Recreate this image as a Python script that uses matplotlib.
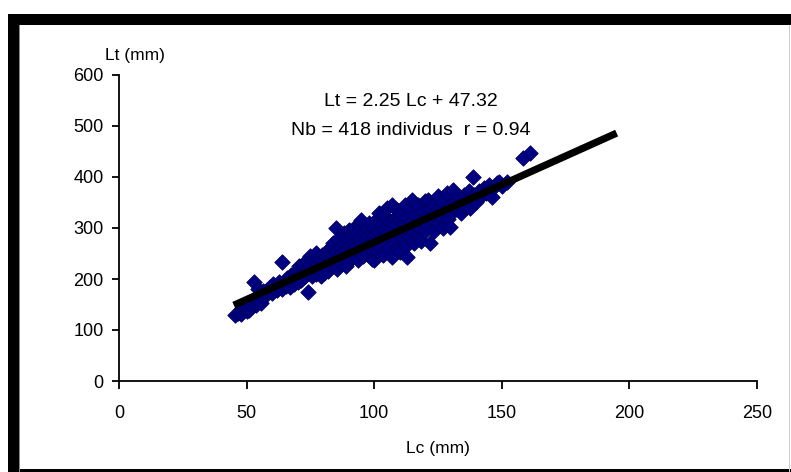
import matplotlib
matplotlib.use("Agg")
import matplotlib.pyplot as plt
from matplotlib.patches import Rectangle

# ---- data ----
lc = [45.5, 46.5, 47.5, 48, 49, 50, 50.5, 51, 52, 52.5, 53, 53.5, 54, 54.5, 55, 55.5, 56, 56.5, 57, 57.5,
      58, 59, 60, 60.5, 61, 62, 62.5, 63, 64, 64, 65, 65.5, 66, 66.5, 67, 67.5, 68, 68.5, 69, 69.5, 70, 70,
      70.5, 71, 71.5, 72, 72.5, 73, 73.5, 74, 74, 74.5, 75, 75, 75.5, 76, 76.5, 77, 77, 77.5, 78, 78.5, 79, 79, 79.5, 80, 80, 80.5,
      81, 81.5, 82, 82, 82.5, 83, 83.5, 84, 84, 84.5, 85, 85, 85.5, 86, 86, 86.5, 87, 87.5, 88, 88, 88.5, 89, 89, 89.5, 90, 90, 90,
      90.5, 91, 91, 91.5, 92, 92, 92.5, 93, 93, 93.5, 94, 94, 94.5, 95, 95, 95.5, 96, 96, 96.5, 97, 97, 97.5, 98, 98, 98.5, 99, 99, 99.5, 100, 100, 100,
      100.5, 101, 101, 101.5, 102, 102, 102.5, 103, 103, 103.5, 104, 104, 104.5, 105, 105, 105.5, 106, 106, 106.5, 107, 107, 107.5, 108, 108, 108.5, 109, 109, 109.5, 110, 110, 110,
      110.5, 111, 111.5, 112, 112, 112.5, 113, 113, 113.5, 114, 114, 114.5, 115, 115, 115.5, 116, 116.5, 117, 117, 117.5, 118, 118.5, 119, 119, 120, 120,
      120.5, 121, 121, 122, 122, 122.5, 123, 123.5, 124, 125, 125, 125.5, 126, 127, 127, 128, 128.5, 129, 129.7, 130, 130,
      131, 131.5, 132, 133, 133.5, 134, 135, 135.5, 136, 137, 137.5, 138, 138.7, 139, 140, 141, 142, 143, 144, 145, 146, 147, 148, 149, 150, 152, 158.3, 161]
lt = [129, 133, 138, 131, 142, 137, 146, 140, 148, 155, 194, 150, 158, 180, 163, 152, 170, 176, 165, 172,
      178, 185, 172, 190, 182, 178, 195, 188, 233, 180, 197, 186, 202, 192, 184, 208, 198, 190, 212, 203, 195, 218,
      225, 208, 198, 230, 214, 205, 236, 174, 220, 212, 245, 228, 205, 218, 238, 210, 250, 226, 215, 240, 222, 205, 248, 232, 218, 212,
      245, 228, 256, 215, 238, 262, 225, 248, 270, 236, 300, 255, 220, 242, 278, 262, 232, 250, 290, 268, 240, 258, 226, 280, 248, 296, 235,
      265, 285, 242, 258, 300, 272, 248, 262, 288, 238, 278, 305, 255, 268, 316, 245, 290, 262, 276, 300, 250, 284, 268, 310, 258, 292, 240, 278, 302, 265, 237,
      286, 318, 255, 295, 275, 330, 262, 308, 285, 248, 298, 325, 270, 288, 340, 260, 312, 280, 300, 345, 243, 292, 320, 270, 305, 285, 335, 258, 298, 253, 315,
      330, 280, 310, 292, 345, 265, 243, 322, 300, 285, 338, 312, 355, 295, 270, 325, 305, 288, 345, 318, 300, 275, 332, 310, 352, 295,
      322, 355, 305, 270, 338, 315, 348, 295, 330, 310, 362, 340, 322, 300, 350, 335, 368, 318, 302, 345, 330,
      375, 352, 338, 360, 345, 330, 365, 352, 342, 372, 339, 358, 400, 365, 350, 372, 362, 378, 368, 385, 361, 380, 388, 390, 383, 390, 437, 447]

slope = 2.25
intercept = 47.32
line_lc = [45, 195]
line_lt = [slope * v + intercept for v in line_lc]

x_ticks = [0, 50, 100, 150, 200, 250]
y_ticks = [0, 100, 200, 300, 400, 500, 600]
eq_text = "Lt = 2.25 Lc + 47.32"
nb_text = "Nb = 418 individus  r = 0.94"
x_label = "Lc (mm)"
y_label = "Lt (mm)"

# ---- figure ----
W, H = 791, 472
fig = plt.figure(figsize=(W / 100, H / 100), dpi=100)
fig.patch.set_facecolor("white")
plt.rcParams['font.family'] = ['Liberation Sans', 'DejaVu Sans']

# black frame (top, left, bottom) and thin grey right edge
fig.add_artist(Rectangle((8 / W, (H - 25) / H), (W - 8) / W, 11 / H, transform=fig.transFigure,
                         facecolor="black", edgecolor="none"))
fig.add_artist(Rectangle((8 / W, 0), 11 / W, (H - 14) / H, transform=fig.transFigure,
                         facecolor="black", edgecolor="none"))
fig.add_artist(Rectangle((8 / W, 0), (W - 8) / W, 3.5 / H, transform=fig.transFigure,
                         facecolor="black", edgecolor="none"))
fig.add_artist(Rectangle((19 / W, 0), 1.2 / W, (H - 25) / H, transform=fig.transFigure,
                         facecolor="#888888", edgecolor="none"))
fig.add_artist(Rectangle((788.5 / W, 0), 1.2 / W, (H - 25) / H, transform=fig.transFigure,
                         facecolor="#cccccc", edgecolor="none"))

ax = fig.add_axes([119 / W, (H - 381) / H, (757 - 119) / W, (381 - 75) / H])
ax.set_facecolor("white")
ax.set_xlim(0, 250)
ax.set_ylim(0, 600)
for s in ["top", "right"]:
    ax.spines[s].set_visible(False)
for s in ["left", "bottom"]:
    ax.spines[s].set_linewidth(1.3)
    ax.spines[s].set_color("black")

ax.set_xticks(x_ticks)
ax.set_yticks(y_ticks)
ax.tick_params(axis="x", direction="out", length=5.5, width=1.3, pad=12, labelsize=13)
ax.tick_params(axis="y", direction="out", length=5, width=1.3, pad=6, labelsize=13)

ax.scatter(lc, lt, marker="D", s=62, color="#000080", edgecolors="#00005a", linewidths=0.6, zorder=2)
ax.plot(line_lc, line_lt, color="black", linewidth=5.2, solid_capstyle="butt", zorder=3)

ax.text(114.4, 539, eq_text, ha="center", va="baseline", fontsize=14)
ax.text(114.4, 482, nb_text, ha="center", va="baseline", fontsize=14)
ax.text(6.3, 629, y_label, ha="center", va="baseline", fontsize=12.5, clip_on=False)
ax.text(125, -141, x_label, ha="center", va="baseline", fontsize=12.5, clip_on=False)

fig.savefig("out.png", dpi=100, facecolor="white")
